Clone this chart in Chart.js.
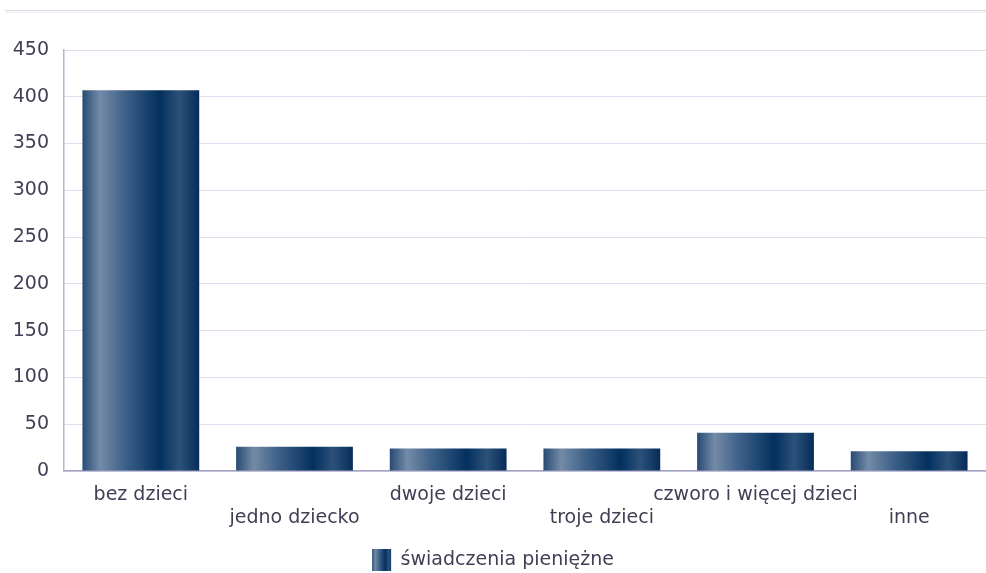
<!DOCTYPE html>
<html>
<head>
<meta charset="utf-8">
<script src="https://cdn.jsdelivr.net/npm/chart.js@4"></script>
<style>
  html, body { margin: 0; padding: 0; background: #fff; }
  #wrap { width: 986px; height: 573px; position: relative; }
</style>
</head>
<body>
<div id="wrap"><canvas id="chart"></canvas></div>
<script>
const categories = ['bez dzieci', 'jedno dziecko', 'dwoje dzieci', 'troje dzieci', 'czworo i więcej dzieci', 'inne'];
const values = [407, 26, 24, 24, 41, 21];
const seriesName = 'świadczenia pieniężne';

const textColor = '#3f3f55';
const font = { family: 'DejaVu Sans', size: 19 };

function barGradient(ctx, left, right) {
    const g = ctx.createLinearGradient(left, 0, right, 0);
    g.addColorStop(0, '#284a73');
    g.addColorStop(0.15, '#738ba7');
    g.addColorStop(0.35, '#41638a');
    g.addColorStop(0.66, '#03305f');
    g.addColorStop(0.83, '#2d5179');
    g.addColorStop(1, '#052c5a');
    return g;
}

const decor = {
    id: 'decor',
    beforeDraw(chart) {
        const c = chart.ctx;
        c.save();
        c.strokeStyle = '#d6d6e0';
        c.lineWidth = 1;
        c.beginPath();
        c.moveTo(5, 10.5); c.lineTo(chart.width, 10.5);
        c.stroke();
        c.strokeStyle = '#ececf2';
        c.beginPath();
        c.moveTo(5, 12.5); c.lineTo(chart.width, 12.5);
        c.stroke();
        c.restore();
        const lg = chart.legend;
        if (lg && lg.legendHitBoxes && lg.legendHitBoxes[0] && lg.legendItems[0]) {
            const hb = lg.legendHitBoxes[0];
            lg.legendItems[0].fillStyle = barGradient(c, hb.left, hb.left + 20);
        }
    }
};

const ctx = document.getElementById('chart').getContext('2d');
const chart = new Chart(ctx, {
    type: 'bar',
    data: {
        labels: categories,
        datasets: [{
            label: seriesName,
            data: values,
            borderWidth: 0,
            categoryPercentage: 0.76,
            barPercentage: 1,
            backgroundColor: function (context) {
                const ch = context.chart;
                const x = ch.scales.x;
                if (!x || context.dataIndex === undefined) return '#1f4470';
                const center = x.getPixelForTick(context.dataIndex);
                const half = x.width / categories.length * 0.76 / 2;
                if (!isFinite(center) || !isFinite(half)) return '#1f4470';
                return barGradient(ch.ctx, center - half, center + half);
            }
        }]
    },
    options: {
        responsive: true,
        maintainAspectRatio: false,
        animation: false,
        layout: { padding: { top: 50, left: 0, right: 0, bottom: -8 } },
        plugins: {
            legend: {
                position: 'bottom',
                labels: {
                    color: textColor,
                    font: font,
                    boxWidth: 19,
                    boxHeight: 22,
                    padding: 2
                }
            },
            tooltip: { enabled: false }
        },
        scales: {
            x: {
                grid: { display: false },
                border: { color: '#a4a4c4', width: 1.5 },
                ticks: {
                    color: textColor,
                    font: font,
                    maxRotation: 0,
                    autoSkip: false,
                    padding: 5,
                    callback: function (v, i) {
                        return i % 2 === 0 ? categories[i] : ['', categories[i]];
                    }
                },
                afterFit: function (s) { s.height = 76; }
            },
            y: {
                min: 0,
                max: 450,
                ticks: {
                    stepSize: 50,
                    color: textColor,
                    font: font,
                    padding: 15
                },
                grid: { color: '#dedeee', drawTicks: false },
                border: { color: '#b4b4cc', width: 1.5 },
                afterFit: function (s) { s.width = 64; }
            }
        }
    },
    plugins: [decor]
});
</script>
</body>
</html>
